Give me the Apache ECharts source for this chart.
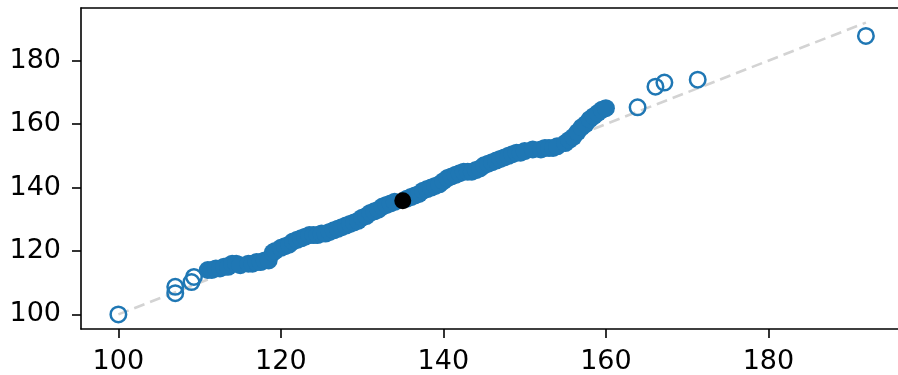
<!DOCTYPE html>
<html>
<head>
<meta charset="utf-8">
<script src="https://cdn.jsdelivr.net/npm/echarts@6/dist/echarts.min.js"></script>
<style>html,body{margin:0;padding:0;background:#fff}#c{width:898px;height:375px}</style>
</head>
<body>
<div id="c"></div>
<script>
// Tick labels
const xTicks = [100, 120, 140, 160, 180];
const yTicks = [100, 120, 140, 160, 180];

// Filled (inlier) points: x values and y values
const inX = [111,111.5,112,112.5,113,113.5,114,114.5,115,116,116.5,117,117.5,118,118.5,119,119.3,120,120.5,121,121.5,122,122.5,123,123.5,124,124.5,125,125.5,126,126.5,127,127.5,128,128.5,129,129.5,130,130.5,131,131.5,132,132.5,133,133.5,134,135.5,136,136.5,137,137.5,138,138.5,139,139.5,140,140.5,141,141.5,142,142.5,143,143.5,144,144.5,145,145.5,146,146.5,147,147.5,148,148.5,149,149.5,150,151,152,152.5,153,153.5,154,155,155.5,156,156.5,157,157.5,158,158.5,159,159.5,160];
const inY = [114,114,114.5,114.5,115,115,116,116,115.5,116,116,116.5,116.5,117,117,119.5,120,121,121.5,122,123,123.5,124,124.5,125,125,125,125.5,125.5,126,126.5,127,127.5,128,128.5,129,129.5,130.5,131,132,132.5,133,134,134.5,135,135.5,136.5,137,137.5,138,139,139.5,140,140.5,141,142,143,143.5,144,144.5,145,145,145,145.5,146,147,147.5,148,148.5,149,149.5,150,150.5,151,151,151.5,152,152,152.5,152.5,152.5,153,154,155,156,157.5,159,160,161.5,162.5,163.5,164.5,165];

// Open (outlier) points
const outX = [100,107,107,109,109.3,163.9,166.1,167.2,171.3,192];
const outY = [100,106.7,108.7,110.2,111.8,165.3,171.8,173.1,174,187.8];

// Highlighted point
const hiX = [135];
const hiY = [135.8];

// Reference line (y = x)
const refX = [100, 192];
const refY = [100, 192];

const zip = (a, b) => a.map((v, i) => [v, b[i]]);
const blue = '#1f77b4';
const font = 'DejaVu Sans';
const XMIN = 95.4, XMAX = 195.95, YMIN = 95.4, YMAX = 196.6;

const chart = echarts.init(document.getElementById('c'), null, {renderer: 'canvas'});
chart.setOption({
  animation: false,
  grid: {left: 81, right: 0, top: 8, bottom: 45, show: false},
  xAxis: [{
    type: 'value', min: XMIN, max: XMAX,
    splitLine: {show: false},
    axisLine: {show: true, onZero: false, lineStyle: {color: '#000', width: 1.6}},
    axisTick: {show: true, length: 9, lineStyle: {color: '#000', width: 1.6}, customValues: xTicks},
    axisLabel: {color: '#000', fontFamily: font, fontSize: 27, margin: 19, customValues: xTicks}
  }, {
    type: 'value', position: 'top', min: XMIN, max: XMAX,
    splitLine: {show: false},
    axisLine: {show: true, onZero: false, lineStyle: {color: '#000', width: 1.6}},
    axisTick: {show: false}, axisLabel: {show: false}
  }],
  yAxis: {
    type: 'value', min: YMIN, max: YMAX,
    splitLine: {show: false},
    axisLine: {show: true, onZero: false, lineStyle: {color: '#000', width: 1.6}},
    axisTick: {show: true, length: 9, lineStyle: {color: '#000', width: 1.6}, customValues: yTicks},
    axisLabel: {color: '#000', fontFamily: font, fontSize: 27, margin: 20, customValues: yTicks}
  },
  series: [
    {type: 'line', data: zip(refX, refY), symbol: 'none', z: 1,
     lineStyle: {color: '#d3d3d3', width: 2.6, type: [11, 6]}},
    {type: 'scatter', data: zip(inX, inY), symbol: 'circle', symbolSize: 18, z: 2,
     itemStyle: {color: blue, opacity: 1}},
    {type: 'scatter', data: zip(outX, outY), symbol: 'circle', symbolSize: 15.5, z: 3,
     itemStyle: {color: 'transparent', borderColor: blue, borderWidth: 2.5, opacity: 1}},
    {type: 'scatter', data: zip(hiX, hiY), symbol: 'circle', symbolSize: 17, z: 4,
     itemStyle: {color: '#000', opacity: 1}}
  ]
});
</script>
</body>
</html>
